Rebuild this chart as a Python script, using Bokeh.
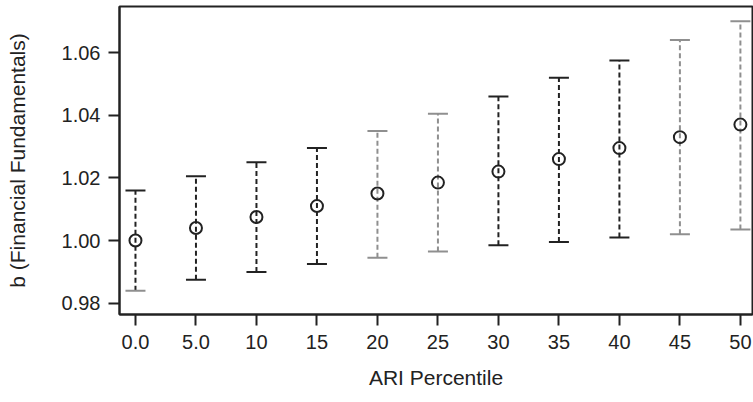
from bokeh.plotting import figure
from bokeh.models import Range1d, FixedTicker, PrintfTickFormatter, ColumnDataSource
from bokeh.embed import file_html
from bokeh.resources import INLINE

# data
percentiles = [0, 5, 10, 15, 20, 25, 30, 35, 40, 45, 50]
x_labels = ["0.0", "5.0", "10", "15", "20", "25", "30", "35", "40", "45", "50"]
estimate = [1.000, 1.004, 1.0075, 1.011, 1.015, 1.0185, 1.022, 1.026, 1.0295, 1.033, 1.037]
upper = [1.016, 1.0205, 1.025, 1.0295, 1.035, 1.0405, 1.046, 1.052, 1.0575, 1.064, 1.070]
lower = [0.984, 0.9875, 0.990, 0.9925, 0.9945, 0.9965, 0.9985, 0.9995, 1.001, 1.002, 1.0035]
y_ticks = [0.98, 1.00, 1.02, 1.04, 1.06]

# styles (rendering tone of each bar)
bar_colors = ["#222222", "#222222", "#222222", "#222222", "#8f8f8f", "#8f8f8f",
              "#222222", "#222222", "#222222", "#8f8f8f", "#8f8f8f"]
low_cap_colors = ["#8f8f8f"] + bar_colors[1:]

FONT = "Liberation Sans"

p = figure(frame_width=633, frame_height=308, output_backend="svg", toolbar_location=None,
           x_range=Range1d(-1.32, 51.0), y_range=Range1d(0.9764, 1.0747),
           min_border_left=119, min_border_top=6, min_border_right=1, min_border_bottom=88)
p.background_fill_color = "white"
p.border_fill_color = "white"
p.outline_line_color = "#222222"
p.outline_line_width = 2
p.xgrid.visible = False
p.ygrid.visible = False

src = ColumnDataSource(dict(x=percentiles, est=estimate, up=upper, lo=lower,
                            c=bar_colors, lc=low_cap_colors))

p.segment(x0="x", y0="lo", x1="x", y1="up", source=src, line_color="c",
          line_width=2, line_dash="5 3")
p.scatter(x="x", y="up", source=src, marker="dash", size=20, line_color="c", line_width=2)
p.scatter(x="x", y="lo", source=src, marker="dash", size=20, line_color="lc", line_width=2)
p.scatter(x="x", y="est", source=src, marker="circle", size=12, fill_color=None,
          line_color="#222222", line_width=2)

for ax in (p.xaxis[0], p.yaxis[0]):
    ax.axis_line_color = "#222222"
    ax.axis_line_width = 2
    ax.major_tick_line_color = "#222222"
    ax.major_tick_line_width = 2
    ax.major_tick_out = 11
    ax.major_tick_in = 0
    ax.minor_tick_line_color = None
    ax.major_label_text_font = FONT
    ax.major_label_text_font_size = "20px"
    ax.major_label_text_color = "#222222"
    ax.axis_label_text_font = FONT
    ax.axis_label_text_font_size = "21px"
    ax.axis_label_text_font_style = "normal"
    ax.axis_label_text_color = "#222222"

p.xaxis.ticker = FixedTicker(ticks=percentiles)
p.xaxis.major_label_overrides = {v: s for v, s in zip(percentiles, x_labels)}
p.xaxis.axis_label = "ARI Percentile"
p.xaxis.major_label_standoff = 9
p.xaxis.axis_label_standoff = 14

p.yaxis.ticker = FixedTicker(ticks=y_ticks)
p.yaxis.formatter = PrintfTickFormatter(format="%.2f")
p.yaxis.axis_label = "b (Financial Fundamentals)"
p.yaxis.major_label_standoff = 8
p.yaxis.axis_label_standoff = 30

open("out.html", "w").write(file_html(p, INLINE))
